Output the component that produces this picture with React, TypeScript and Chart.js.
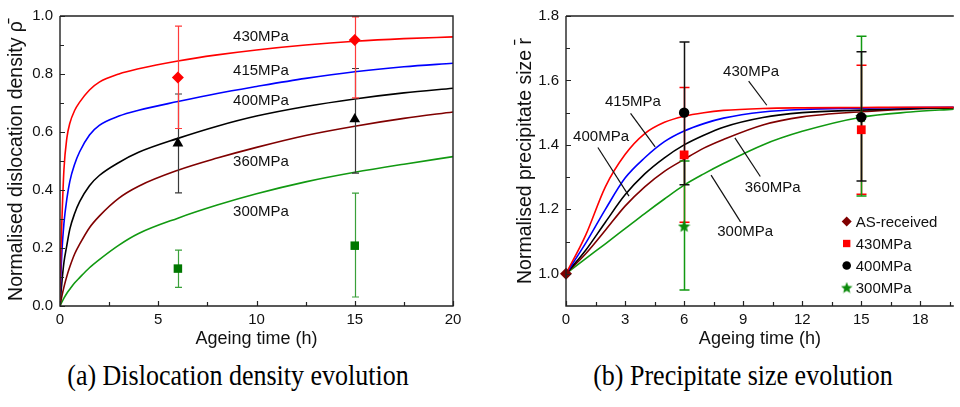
import React, { useEffect, useRef } from "react";
import { Chart, registerables } from "chart.js";

Chart.register(...registerables);

const SANS = "'Liberation Sans', Arial, Helvetica, sans-serif";
const SERIF = "'Liberation Serif', 'Times New Roman', Times, serif";
Chart.defaults.font.family = SANS;
Chart.defaults.color = "#111";

// ---------- (a) Dislocation density ----------
const rhoTime = [0, 0.03, 0.1, 0.2, 0.35, 0.5, 0.75, 1, 1.5, 2, 3, 4, 6, 8, 10, 12.5, 15, 17.5, 20];
const rho430 = [0, 0.14, 0.3, 0.47, 0.58, 0.63, 0.675, 0.703, 0.745, 0.772, 0.8, 0.818, 0.845, 0.866, 0.883, 0.9, 0.913, 0.922, 0.928];
const rho415 = [0, 0.075, 0.19, 0.285, 0.37, 0.43, 0.49, 0.532, 0.59, 0.623, 0.655, 0.675, 0.705, 0.733, 0.757, 0.785, 0.808, 0.825, 0.837];
const rho400 = [0, 0.03, 0.085, 0.15, 0.21, 0.265, 0.32, 0.36, 0.415, 0.45, 0.495, 0.53, 0.578, 0.62, 0.655, 0.688, 0.714, 0.735, 0.751];
const rho360 = [0, 0.012, 0.035, 0.065, 0.103, 0.135, 0.18, 0.213, 0.27, 0.31, 0.372, 0.413, 0.468, 0.51, 0.547, 0.588, 0.62, 0.647, 0.669];
const rho300 = [0, 0.004, 0.014, 0.027, 0.044, 0.058, 0.08, 0.098, 0.132, 0.16, 0.21, 0.25, 0.303, 0.348, 0.387, 0.428, 0.461, 0.489, 0.515];

const rhoExpTime = [6, 15];
const rho430Exp = [0.788, 0.917];
const rho430Lo = [0.612, 0.718];
const rho430Hi = [0.965, 0.997];
const rho400Exp = [0.561, 0.644];
const rho400Lo = [0.39, 0.458];
const rho400Hi = [0.731, 0.819];
const rho300Exp = [0.129, 0.208];
const rho300Lo = [0.064, 0.031];
const rho300Hi = [0.193, 0.389];

const rhoXTicks = [0, 5, 10, 15, 20];
const rhoXMinor = [2.5, 7.5, 12.5, 17.5];
const rhoYTicks = [0, 0.2, 0.4, 0.6, 0.8, 1.0];
const rhoYMinor = [0.1, 0.3, 0.5, 0.7, 0.9];

// ---------- (b) Precipitate size ----------
const sizeTime = [0, 1, 2, 3, 4, 5, 6, 7, 8, 10, 12, 15, 17.5, 19.7];
const size430 = [1.0, 1.12, 1.27, 1.37, 1.435, 1.47, 1.489, 1.5, 1.507, 1.513, 1.515, 1.516, 1.517, 1.517];
const size415 = [1.0, 1.095, 1.2, 1.297, 1.36, 1.41, 1.443, 1.466, 1.483, 1.502, 1.51, 1.514, 1.516, 1.517];
const size400 = [1.0, 1.073, 1.16, 1.245, 1.31, 1.36, 1.4, 1.43, 1.455, 1.485, 1.5, 1.508, 1.513, 1.516];
const size360 = [1.0, 1.062, 1.135, 1.21, 1.27, 1.318, 1.355, 1.39, 1.417, 1.462, 1.487, 1.503, 1.511, 1.515];
const size300 = [1.0, 1.047, 1.093, 1.14, 1.187, 1.232, 1.275, 1.31, 1.342, 1.4, 1.442, 1.486, 1.502, 1.511];

const asReceivedTime = [0];
const asReceivedSize = [1.0];
const sizeExpTime = [6, 15];
const size430Exp = [1.369, 1.447];
const size430Lo = [1.16, 1.247];
const size430Hi = [1.578, 1.647];
const size400Exp = [1.5, 1.486];
const size400Lo = [1.276, 1.288];
const size400Hi = [1.719, 1.689];
const size300Exp = [1.148, 1.488];
const size300Lo = [0.95, 1.241];
const size300Hi = [1.35, 1.737];

const sizeXTicks = [0, 3, 6, 9, 12, 15, 18];
const sizeXMinor = [1.5, 4.5, 7.5, 10.5, 13.5, 16.5, 19.5];
const sizeYTicks = [1.0, 1.2, 1.4, 1.6, 1.8];
const sizeYMinor = [1.1, 1.3, 1.5, 1.7];

const stressLabels = ["430MPa", "415MPa", "400MPa", "360MPa", "300MPa"];
const legendLabels = ["AS-received", "430MPa", "400MPa", "300MPa"];

// ---------- helpers ----------
const pts = (xs: number[], ys: number[]) => xs.map((x, i) => ({ x, y: ys[i] }));

type Bar = { xs: number[]; lo: number[]; hi: number[]; color: string; width: number; cap: number };
type Note = { text: string; x: number; y: number; line?: [number, number, number, number] };
type Decor = {
  xMajor: number[];
  xMinor: number[];
  yMajor: number[];
  yMinor: number[];
  rightBorder: boolean;
  barsAfter: number;
  bars: Bar[];
  notes: Note[];
  legend?: { dx: number; dy: number; row: number; items: { text: string; style: any; r: number; color: string }[] };
};

function starImage(size: number, color: string) {
  const c = document.createElement("canvas");
  c.width = size;
  c.height = size;
  const g = c.getContext("2d")!;
  const cx = size / 2;
  const cy = size / 2 + 0.6;
  const R = size / 2;
  const r = R * 0.45;
  g.fillStyle = color;
  g.beginPath();
  for (let k = 0; k < 10; k++) {
    const a = -Math.PI / 2 + (k * Math.PI) / 5;
    const rad = k % 2 ? r : R;
    g.lineTo(cx + rad * Math.cos(a), cy + rad * Math.sin(a));
  }
  g.closePath();
  g.fill();
  return c;
}

function drawMarker(ctx: CanvasRenderingContext2D, style: any, x: number, y: number, r: number, color: string) {
  if (typeof style !== "string") {
    ctx.drawImage(style, x - style.width / 2, y - style.height / 2);
    return;
  }
  ctx.save();
  ctx.fillStyle = color;
  ctx.beginPath();
  if (style === "circle") ctx.arc(x, y, r, 0, Math.PI * 2);
  else if (style === "rect") {
    const s = r * Math.SQRT1_2;
    ctx.rect(x - s, y - s, 2 * s, 2 * s);
  } else if (style === "rectRot") {
    ctx.moveTo(x, y - r);
    ctx.lineTo(x + r, y);
    ctx.lineTo(x, y + r);
    ctx.lineTo(x - r, y);
    ctx.closePath();
  }
  ctx.fill();
  ctx.restore();
}

function decorPlugin(d: Decor) {
  return {
    id: "decor",
    afterDatasetDraw(chart: any, args: any) {
      if (args.index !== d.barsAfter) return;
      const ctx: CanvasRenderingContext2D = chart.ctx;
      const xs = chart.scales.x;
      const ys = chart.scales.y;
      ctx.save();
      for (const b of d.bars) {
        ctx.strokeStyle = b.color;
        ctx.lineWidth = b.width;
        b.xs.forEach((xv, i) => {
          const px = Math.round(xs.getPixelForValue(xv)) + 0.5;
          const y1 = ys.getPixelForValue(b.lo[i]);
          const y2 = ys.getPixelForValue(b.hi[i]);
          ctx.beginPath();
          ctx.moveTo(px, y1);
          ctx.lineTo(px, y2);
          ctx.moveTo(px - b.cap, y1);
          ctx.lineTo(px + b.cap, y1);
          ctx.moveTo(px - b.cap, y2);
          ctx.lineTo(px + b.cap, y2);
          ctx.stroke();
        });
      }
      ctx.restore();
    },
    afterDraw(chart: any) {
      const ctx: CanvasRenderingContext2D = chart.ctx;
      const { left, right, top, bottom } = chart.chartArea;
      const xs = chart.scales.x;
      const ys = chart.scales.y;
      ctx.save();

      // stress labels and their leader lines
      ctx.font = `15px ${SANS}`;
      ctx.fillStyle = "#111";
      ctx.textAlign = "center";
      ctx.textBaseline = "middle";
      ctx.strokeStyle = "#111";
      ctx.lineWidth = 1.2;
      for (const n of d.notes) {
        ctx.fillText(n.text, xs.getPixelForValue(n.x), ys.getPixelForValue(n.y));
        if (n.line) {
          ctx.beginPath();
          ctx.moveTo(xs.getPixelForValue(n.line[0]), ys.getPixelForValue(n.line[1]));
          ctx.lineTo(xs.getPixelForValue(n.line[2]), ys.getPixelForValue(n.line[3]));
          ctx.stroke();
        }
      }

      // marker legend
      if (d.legend) {
        const lg = d.legend;
        ctx.textAlign = "left";
        lg.items.forEach((it, i) => {
          const x = left + lg.dx;
          const y = top + lg.dy + i * lg.row;
          drawMarker(ctx, it.style, x, y, it.r, it.color);
          ctx.fillStyle = "#111";
          ctx.fillText(it.text, x + 9, y + 1);
        });
      }

      // plot frame
      ctx.strokeStyle = "#222";
      ctx.lineWidth = 1.4;
      ctx.beginPath();
      ctx.moveTo(left, top);
      ctx.lineTo(left, bottom);
      ctx.lineTo(right, bottom);
      if (d.rightBorder) ctx.lineTo(right, top);
      else ctx.moveTo(right, top);
      ctx.lineTo(left, top);
      ctx.stroke();

      // inward tick marks
      ctx.lineWidth = 1.2;
      ctx.beginPath();
      const tx = (v: number, len: number) => {
        const p = Math.round(xs.getPixelForValue(v)) + 0.5;
        ctx.moveTo(p, bottom);
        ctx.lineTo(p, bottom - len);
      };
      const ty = (v: number, len: number) => {
        const p = Math.round(ys.getPixelForValue(v)) + 0.5;
        ctx.moveTo(left, p);
        ctx.lineTo(left + len, p);
      };
      d.xMajor.forEach((v) => tx(v, 5));
      d.xMinor.forEach((v) => tx(v, 4));
      d.yMajor.forEach((v) => ty(v, 5));
      d.yMinor.forEach((v) => ty(v, 4));
      ctx.stroke();
      ctx.restore();
    },
  };
}

function axes(o: {
  xMin: number; xMax: number; yMin: number; yMax: number;
  xTicks: number[]; yTicks: number[];
  yWidth: number; yTitle: string; yTitlePad: number; yDigits: number;
}) {
  return {
    x: {
      type: "linear",
      min: o.xMin,
      max: o.xMax,
      grid: { display: false, drawTicks: false },
      border: { display: false },
      afterBuildTicks: (s: any) => {
        s.ticks = o.xTicks.map((value) => ({ value }));
      },
      afterFit: (s: any) => {
        s.height = 44;
      },
      ticks: {
        padding: 5,
        maxRotation: 0,
        font: { size: 15 },
        color: "#111",
        callback: (v: any) => String(v),
      },
      title: {
        display: true,
        text: "Ageing time (h)",
        font: { size: 18 },
        color: "#111",
        padding: { top: 0, bottom: 0 },
      },
    },
    y: {
      type: "linear",
      min: o.yMin,
      max: o.yMax,
      grid: { display: false, drawTicks: false },
      border: { display: false },
      afterBuildTicks: (s: any) => {
        s.ticks = o.yTicks.map((value) => ({ value }));
      },
      afterFit: (s: any) => {
        s.width = o.yWidth;
      },
      ticks: {
        padding: 7,
        font: { size: 15 },
        color: "#111",
        callback: (v: any) => Number(v).toFixed(o.yDigits),
      },
      title: {
        display: true,
        text: o.yTitle,
        font: { size: 19.5 },
        color: "#111",
        padding: { top: o.yTitlePad, bottom: 0 },
      },
    },
  };
}

function lineSet(label: string, xs: number[], ys: number[], color: string) {
  return {
    label,
    data: pts(xs, ys),
    borderColor: color,
    backgroundColor: color,
    borderWidth: 1.6,
    pointRadius: 0,
    cubicInterpolationMode: "monotone",
    fill: false,
  };
}

function markerSet(label: string, xs: number[], ys: number[], style: any, r: number, color: string) {
  return {
    label,
    data: pts(xs, ys),
    showLine: false,
    pointStyle: style,
    pointRadius: r,
    borderWidth: 0,
    backgroundColor: color,
    borderColor: color,
    clip: false,
  };
}

function densityConfig(): any {
  const datasets = [
    markerSet("430MPa", rhoExpTime, rho430Exp, "rectRot", 6, "#ff0000"),
    markerSet("400MPa", rhoExpTime, rho400Exp, "triangle", 6.2, "#000000"),
    markerSet("300MPa", rhoExpTime, rho300Exp, "rect", 6, "#007700"),
    lineSet("430MPa", rhoTime, rho430, "#ff0000"),
    lineSet("415MPa", rhoTime, rho415, "#0000ff"),
    lineSet("400MPa", rhoTime, rho400, "#000000"),
    lineSet("360MPa", rhoTime, rho360, "#800000"),
    lineSet("300MPa", rhoTime, rho300, "#119911"),
  ];
  const noteT = 10.23;
  const noteV = [0.928, 0.811, 0.709, 0.498, 0.324];
  return {
    type: "line",
    data: { datasets },
    options: {
      animation: false,
      responsive: false,
      events: [],
      layout: { padding: { left: 0, top: 13, right: 27, bottom: 0 } },
      plugins: { legend: { display: false }, tooltip: { enabled: false } },
      scales: axes({
        xMin: 0, xMax: 20, yMin: 0, yMax: 1,
        xTicks: rhoXTicks, yTicks: rhoYTicks,
        yWidth: 60, yTitle: "Normalised dislocation density \u03C1\u0304", yTitlePad: 5, yDigits: 1,
      }),
    },
    plugins: [
      decorPlugin({
        xMajor: rhoXTicks, xMinor: rhoXMinor, yMajor: rhoYTicks, yMinor: rhoYMinor,
        rightBorder: true,
        barsAfter: 3,
        bars: [
          { xs: rhoExpTime, lo: rho400Lo, hi: rho400Hi, color: "#3a3a3a", width: 1.2, cap: 3.5 },
          { xs: rhoExpTime, lo: rho430Lo, hi: rho430Hi, color: "#ff3b3b", width: 1.2, cap: 3.5 },
          { xs: rhoExpTime, lo: rho300Lo, hi: rho300Hi, color: "#3aa03a", width: 1.2, cap: 3.5 },
        ],
        notes: stressLabels.map((text, i) => ({ text, x: noteT, y: noteV[i] })),
      }),
    ],
  };
}

function sizeConfig(): any {
  const star = starImage(13, "#0a8a0a");
  const datasets = [
    markerSet("AS-received", asReceivedTime, asReceivedSize, "rectRot", 6, "#800000"),
    markerSet("430MPa", sizeExpTime, size430Exp, "rect", 6.2, "#ff0000"),
    markerSet("400MPa", sizeExpTime, size400Exp, "circle", 5.2, "#000000"),
    markerSet("300MPa", sizeExpTime, size300Exp, star, 6, "#0a8a0a"),
    lineSet("430MPa", sizeTime, size430, "#ff0000"),
    lineSet("415MPa", sizeTime, size415, "#0000ff"),
    lineSet("400MPa", sizeTime, size400, "#000000"),
    lineSet("360MPa", sizeTime, size360, "#800000"),
    lineSet("300MPa", sizeTime, size300, "#119911"),
  ];
  const notes: Note[] = [
    { text: stressLabels[0], x: 9.4, y: 1.628, line: [9.28, 1.598, 10.2, 1.523] },
    { text: stressLabels[1], x: 3.4, y: 1.532, line: [3.28, 1.498, 4.53, 1.394] },
    { text: stressLabels[2], x: 1.78, y: 1.424, line: [1.62, 1.392, 3.2, 1.241] },
    { text: stressLabels[3], x: 10.5, y: 1.266, line: [8.58, 1.422, 9.87, 1.302] },
    { text: stressLabels[4], x: 9.1, y: 1.131, line: [7.37, 1.306, 8.87, 1.161] },
  ];
  return {
    type: "line",
    data: { datasets },
    options: {
      animation: false,
      responsive: false,
      events: [],
      layout: { padding: { left: 0, top: 8, right: 0, bottom: 0 } },
      plugins: { legend: { display: false }, tooltip: { enabled: false } },
      scales: axes({
        xMin: 0, xMax: 19.7, yMin: 0.9, yMax: 1.8,
        xTicks: sizeXTicks, yTicks: sizeYTicks,
        yWidth: 86, yTitle: "Normalised precipitate size r\u0304", yTitlePad: 34, yDigits: 1,
      }),
    },
    plugins: [
      decorPlugin({
        xMajor: sizeXTicks, xMinor: sizeXMinor, yMajor: sizeYTicks, yMinor: sizeYMinor,
        rightBorder: false,
        barsAfter: 4,
        bars: [
          { xs: sizeExpTime, lo: size430Lo, hi: size430Hi, color: "#ff0000", width: 1.5, cap: 5 },
          { xs: sizeExpTime, lo: size300Lo, hi: size300Hi, color: "#119911", width: 1.5, cap: 5 },
          { xs: sizeExpTime, lo: size400Lo, hi: size400Hi, color: "#111111", width: 1.5, cap: 5 },
        ],
        notes,
        legend: {
          dx: 280.7,
          dy: 205.5,
          row: 22,
          items: [
            { text: legendLabels[0], style: "rectRot", r: 5, color: "#800000" },
            { text: legendLabels[1], style: "rect", r: 5.2, color: "#ff0000" },
            { text: legendLabels[2], style: "circle", r: 4.3, color: "#000000" },
            { text: legendLabels[3], style: starImage(12, "#0a8a0a"), r: 6, color: "#0a8a0a" },
          ],
        },
      }),
    ],
  };
}

function ChartCanvas({ make, left }: { make: () => any; left: number }) {
  const ref = useRef<HTMLCanvasElement>(null);
  useEffect(() => {
    const chart = new Chart(ref.current!, make());
    return () => chart.destroy();
  }, [make]);
  return (
    <canvas
      ref={ref}
      width={480}
      height={350}
      style={{ position: "absolute", left, top: 0, width: 480, height: 350 }}
    />
  );
}

const captionStyle: React.CSSProperties = {
  position: "absolute",
  top: 360,
  textAlign: "center",
  fontFamily: SERIF,
  fontSize: 26,
  lineHeight: "32px",
  color: "#000",
  whiteSpace: "nowrap",
  transform: "scaleY(1.15)",
  transformOrigin: "50% 50%",
};

export default function App() {
  return (
    <div
      style={{
        position: "fixed",
        left: 0,
        top: 0,
        width: 960,
        height: 407,
        background: "#fff",
        overflow: "hidden",
      }}
    >
      <ChartCanvas make={densityConfig} left={0} />
      <ChartCanvas make={sizeConfig} left={480} />
      <div style={{ ...captionStyle, left: 0, width: 476 }}>(a) Dislocation density evolution</div>
      <div style={{ ...captionStyle, left: 526, width: 434 }}>(b) Precipitate size evolution</div>
    </div>
  );
}
